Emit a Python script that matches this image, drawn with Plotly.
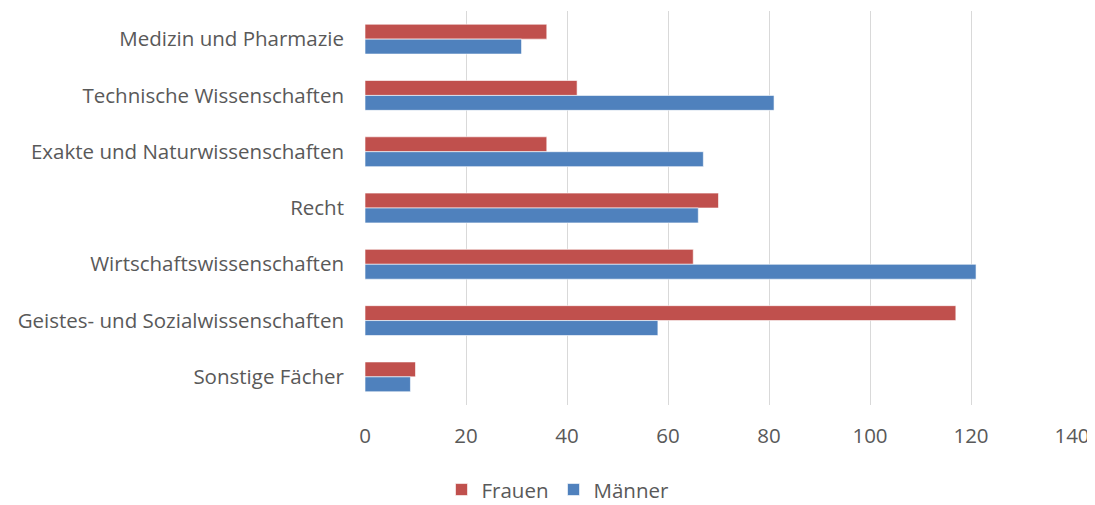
import plotly.graph_objects as go

categories = [
    "Medizin und Pharmazie",
    "Technische Wissenschaften",
    "Exakte und Naturwissenschaften",
    "Recht",
    "Wirtschaftswissenschaften",
    "Geistes- und Sozialwissenschaften",
    "Sonstige Fächer",
]
frauen = [36, 42, 36, 70, 65, 117, 10]
maenner = [31, 81, 67, 66, 121, 58, 9]
x_ticks = [0, 20, 40, 60, 80, 100, 120, 140]

font_family = "Open Sans, Liberation Sans, sans-serif"
text_color = "#595959"
fsize = 20.5

fig = go.Figure()
fig.add_trace(go.Bar(
    y=categories, x=frauen, name="Frauen", orientation="h",
    marker=dict(color="#C0504D", line=dict(color="rgba(255,255,255,0.6)", width=1)),
))
fig.add_trace(go.Bar(
    y=categories, x=maenner, name="Männer", orientation="h",
    marker=dict(color="#4F81BD", line=dict(color="rgba(255,255,255,0.6)", width=1)),
))

# the page adds an 8px body margin, so the figure is made 8px smaller
fig.update_layout(
    width=1087, height=497,
    margin=dict(l=357, r=23, t=3, b=100, autoexpand=False),
    paper_bgcolor="white", plot_bgcolor="white",
    barmode="group", bargap=0.47, bargroupgap=0,
    font=dict(family=font_family, size=fsize, color=text_color),
    legend=dict(
        orientation="h", x=0.273, xanchor="center", y=-0.215, yanchor="middle",
        font=dict(size=fsize, color=text_color), itemwidth=30,
    ),
    showlegend=True,
)
fig.update_xaxes(
    range=[0, 140], tickvals=x_ticks, showgrid=True, gridcolor="#d9d9d9",
    gridwidth=1, zeroline=False, showline=False, ticks="",
    ticklabelstandoff=16, tickfont=dict(size=fsize, color=text_color),
)
fig.update_yaxes(
    autorange="reversed", showgrid=False, showline=False, ticks="",
    ticklabelstandoff=20, tickfont=dict(size=fsize, color=text_color),
)

fig.write_html("out.html")
